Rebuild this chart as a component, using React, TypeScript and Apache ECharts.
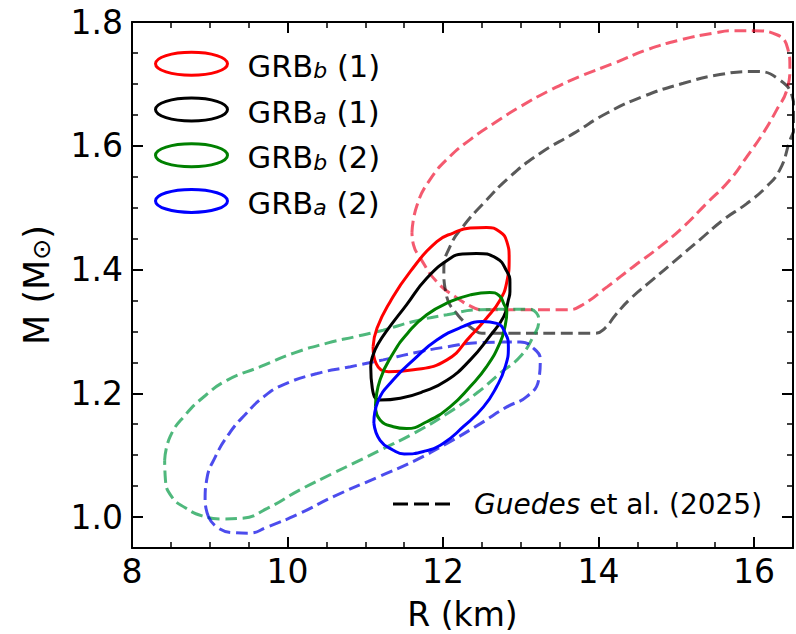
import React, { useEffect, useRef } from 'react';
import * as echarts from 'echarts';

const FONT = "'DejaVu Sans', sans-serif";

// Axis ranges and tick steps
const X_MIN = 8;
const X_MAX = 16.5;
const X_MAJOR = 2;
const X_MINOR = 0.5;
const Y_MIN = 0.95;
const Y_MAX = 1.8;
const Y_MAJOR = 0.2;
const Y_MINOR = 0.05;

// Solid credible contours (R [km], M [Msun])
const GRB_B1: number[][] = [
  [11.10, 1.275], [11.15, 1.305], [11.32, 1.348], [11.58, 1.397], [11.92, 1.445], [12.13, 1.459],
  [12.35, 1.467], [12.56, 1.468], [12.73, 1.461], [12.82, 1.445], [12.85, 1.418], [12.82, 1.38],
  [12.73, 1.35], [12.55, 1.32], [12.35, 1.292], [12.05, 1.254], [11.62, 1.238], [11.30, 1.235],
  [11.14, 1.248], [11.10, 1.275],
];
const GRB_A1: number[][] = [
  [11.16, 1.279], [11.27, 1.30], [11.53, 1.343], [11.79, 1.386], [12.09, 1.418], [12.25, 1.425],
  [12.43, 1.426], [12.69, 1.418], [12.82, 1.397], [12.86, 1.38], [12.86, 1.364], [12.84, 1.351],
  [12.78, 1.324], [12.60, 1.292], [12.35, 1.254], [12.05, 1.221], [11.75, 1.203], [11.45, 1.192],
  [11.19, 1.189], [11.09, 1.208], [11.07, 1.243], [11.10, 1.262], [11.16, 1.279],
];
const GRB_B2: number[][] = [
  [11.13, 1.178], [11.19, 1.222], [11.36, 1.265], [11.55, 1.298], [11.79, 1.327], [12.09, 1.348],
  [12.35, 1.359], [12.60, 1.363], [12.72, 1.358], [12.78, 1.345], [12.82, 1.332], [12.80, 1.31],
  [12.73, 1.281], [12.56, 1.243], [12.35, 1.211], [12.09, 1.178], [11.79, 1.154], [11.53, 1.143],
  [11.36, 1.146], [11.19, 1.157], [11.13, 1.178],
];
const GRB_A2: number[][] = [
  [11.11, 1.152], [11.16, 1.186], [11.36, 1.222], [11.62, 1.254], [11.92, 1.286], [12.26, 1.308],
  [12.50, 1.316], [12.69, 1.313], [12.80, 1.297], [12.84, 1.275], [12.80, 1.243], [12.69, 1.211],
  [12.52, 1.178], [12.26, 1.146], [12.00, 1.119], [11.75, 1.106], [11.50, 1.102], [11.36, 1.108],
  [11.19, 1.124], [11.11, 1.152],
];

// Dashed contours from Guedes et al. (2025)
const GUEDES_B1: number[][] = [
  [11.60, 1.46], [11.66, 1.502], [11.83, 1.545], [12.09, 1.583], [12.35, 1.61], [12.65, 1.636],
  [12.99, 1.663], [13.38, 1.69], [13.76, 1.712], [14.19, 1.733], [14.62, 1.755], [15.05, 1.771],
  [15.48, 1.782], [15.73, 1.786], [15.99, 1.786], [16.30, 1.779], [16.43, 1.758], [16.46, 1.728],
  [16.42, 1.69], [16.29, 1.658], [16.12, 1.621], [15.91, 1.583], [15.69, 1.545], [15.39, 1.507],
  [15.09, 1.469], [14.79, 1.437], [14.45, 1.405], [14.11, 1.372], [13.78, 1.342], [13.60, 1.335],
  [12.50, 1.335], [12.40, 1.338], [12.18, 1.354], [11.92, 1.38], [11.71, 1.418], [11.62, 1.44],
  [11.60, 1.46],
];
const GUEDES_A1: number[][] = [
  [12.43, 1.30], [12.20, 1.325], [12.04, 1.36], [12.01, 1.40], [12.10, 1.44], [12.26, 1.47],
  [12.52, 1.507], [12.86, 1.55], [13.25, 1.588], [13.68, 1.62], [14.11, 1.653], [14.58, 1.68],
  [15.09, 1.701], [15.56, 1.715], [15.99, 1.72], [16.30, 1.709], [16.50, 1.675], [16.53, 1.64],
  [16.45, 1.605], [16.33, 1.561], [16.16, 1.534], [15.91, 1.507], [15.60, 1.48], [15.30, 1.448],
  [15.00, 1.416], [14.70, 1.384], [14.42, 1.354], [14.22, 1.327], [14.08, 1.305], [13.95, 1.297],
  [12.50, 1.297], [12.43, 1.30],
];
const GUEDES_B2: number[][] = [
  [8.42, 1.092], [8.49, 1.13], [8.685, 1.165], [8.94, 1.196], [9.22, 1.221],
  [9.65, 1.243], [10.08, 1.265], [10.51, 1.281], [10.89, 1.292], [11.23, 1.302], [11.62, 1.316],
  [12.05, 1.327], [12.48, 1.335], [13.10, 1.336], [13.20, 1.33], [13.23, 1.317], [13.16, 1.292],
  [12.99, 1.259], [12.73, 1.232], [12.43, 1.20], [12.05, 1.167], [11.62, 1.135], [11.19, 1.108],
  [10.90, 1.09], [10.59, 1.071], [10.16, 1.044], [9.74, 1.014], [9.414, 0.998], [9.157, 0.997],
  [8.90, 1.002], [8.685, 1.015], [8.51, 1.033], [8.43, 1.06], [8.42, 1.092],
];
const GUEDES_A2: number[][] = [
  [8.985, 1.0], [8.94, 1.027], [8.96, 1.06], [9.07, 1.097], [9.25, 1.135], [9.45, 1.165],
  [9.70, 1.195], [9.95, 1.214], [10.38, 1.232], [10.81, 1.243], [11.23, 1.254], [11.62, 1.265],
  [12.05, 1.275], [12.48, 1.282], [12.99, 1.283], [13.16, 1.273], [13.25, 1.254], [13.23, 1.222],
  [13.08, 1.195], [12.82, 1.178], [12.48, 1.151], [12.05, 1.119], [11.62, 1.09], [11.19, 1.066],
  [10.59, 1.033], [10.16, 1.006], [9.74, 0.984], [9.50, 0.974], [9.285, 0.975], [9.09, 0.984],
  [8.985, 1.0],
];

const GUEDES_NAME = 'Guedes et al. (2025)';

const SOLID = [
  { name: 'GRB_b (1)', color: '#ff0000', data: GRB_B1, label: '{p|GRB}{s|b}{n| (1)}' },
  { name: 'GRB_a (1)', color: '#000000', data: GRB_A1, label: '{p|GRB}{s|a}{n| (1)}' },
  { name: 'GRB_b (2)', color: '#008000', data: GRB_B2, label: '{p|GRB}{s|b}{n| (2)}' },
  { name: 'GRB_a (2)', color: '#0000ff', data: GRB_A2, label: '{p|GRB}{s|a}{n| (2)}' },
];
const DASHED = [
  { color: 'rgba(240,20,50,0.7)', data: GUEDES_B1 },
  { color: 'rgba(0,0,0,0.65)', data: GUEDES_A1 },
  { color: 'rgba(20,160,80,0.75)', data: GUEDES_B2 },
  { color: 'rgba(0,0,230,0.7)', data: GUEDES_A2 },
];

const ELLIPSE_ICON = 'path://M0,11.5A36,11.5,0,1,1,72,11.5A36,11.5,0,1,1,0,11.5Z';
const DASH_ICON = 'path://M0,0h15v3h-15zM21,0h15v3h-15zM42,0h15v3h-15z';

function makeX(position: string, major: boolean, labels: boolean): any {
  return {
    type: 'value',
    position,
    min: X_MIN,
    max: X_MAX,
    ...(major ? { minInterval: X_MAJOR, maxInterval: X_MAJOR } : { interval: X_MINOR }),
    splitLine: { show: false },
    axisLine: major
      ? { show: true, onZero: false, lineStyle: { color: '#000', width: 2 } }
      : { show: false, onZero: false },
    axisTick: {
      show: true,
      inside: true,
      length: major ? 11 : 6,
      lineStyle: { color: '#000', width: major ? 2 : 1.5 },
    },
    axisLabel: labels
      ? {
          show: true,
          margin: 7,
          fontSize: 33,
          fontFamily: FONT,
          color: '#000',
          showMaxLabel: false,
          formatter: (v: number) => String(Math.round(v)),
        }
      : { show: false },
    ...(labels
      ? {
          name: 'R (km)',
          nameLocation: 'middle',
          nameGap: 50,
          nameTextStyle: { fontSize: 33, fontFamily: FONT, color: '#000' },
        }
      : {}),
  };
}

function makeY(position: string, major: boolean, labels: boolean): any {
  return {
    type: 'value',
    position,
    min: Y_MIN,
    max: Y_MAX,
    ...(major ? { minInterval: Y_MAJOR, maxInterval: Y_MAJOR } : { interval: Y_MINOR }),
    splitLine: { show: false },
    axisLine: major
      ? { show: true, onZero: false, lineStyle: { color: '#000', width: 2 } }
      : { show: false, onZero: false },
    axisTick: {
      show: true,
      inside: true,
      length: major ? 11 : 6,
      lineStyle: { color: '#000', width: major ? 2 : 1.5 },
    },
    axisLabel: labels
      ? {
          show: true,
          margin: 9,
          fontSize: 33,
          fontFamily: FONT,
          color: '#000',
          showMinLabel: false,
          formatter: (v: number) => v.toFixed(1),
        }
      : { show: false },
    ...(labels
      ? {
          name: '{n|M (M}{s|\u2299}{n|)}',
          nameLocation: 'middle',
          nameGap: 78,
          nameTextStyle: {
            fontSize: 35,
            fontFamily: FONT,
            color: '#000',
            rich: {
              n: { fontSize: 35, fontFamily: FONT, color: '#000', lineHeight: 40, verticalAlign: 'bottom' },
              s: { fontSize: 25, fontFamily: FONT, color: '#000', lineHeight: 23, verticalAlign: 'bottom' },
            },
          },
        }
      : {}),
  };
}

export default function App() {
  const ref = useRef<HTMLDivElement>(null);

  useEffect(() => {
    document.body.style.margin = '0';
    if (!ref.current) return;
    const chart = echarts.init(ref.current, null, { renderer: 'svg' });

    const legendRich = {
      p: { fontSize: 30.5, fontFamily: FONT, color: '#000', lineHeight: 36, verticalAlign: 'bottom', padding: [0, 0, 0, 15] },
      n: { fontSize: 30.5, fontFamily: FONT, color: '#000', lineHeight: 36, verticalAlign: 'bottom' },
      s: { fontSize: 22, fontFamily: FONT, fontStyle: 'italic', color: '#000', lineHeight: 20, verticalAlign: 'bottom' },
    };
    const guedesRich = {
      i: { fontSize: 28, fontFamily: FONT, fontStyle: 'italic', color: '#000', lineHeight: 34, padding: [0, 0, 0, 19] },
      n: { fontSize: 28, fontFamily: FONT, color: '#000', lineHeight: 34 },
    };

    const labelMap: Record<string, string> = {};
    SOLID.forEach((s) => (labelMap[s.name] = s.label));
    labelMap[GUEDES_NAME] = '{i|Guedes}{n| et al. (2025)}';

    const series: any[] = [];
    DASHED.forEach((d) => {
      series.push({
        type: 'line',
        name: GUEDES_NAME,
        data: d.data,
        xAxisIndex: 0,
        yAxisIndex: 0,
        symbol: 'none',
        showSymbol: false,
        smooth: 0.5,
        silent: true,
        z: 2,
        lineStyle: { color: d.color, width: 3, type: [12, 5.5] },
        itemStyle: { color: d.color },
      });
    });
    SOLID.forEach((s, i) => {
      series.push({
        type: 'line',
        name: s.name,
        data: s.data,
        xAxisIndex: 0,
        yAxisIndex: 0,
        symbol: 'none',
        showSymbol: false,
        smooth: 0.5,
        silent: true,
        z: 3 + i,
        lineStyle: { color: s.color, width: 3 },
        itemStyle: { color: s.color },
      });
    });

    const option: any = {
      animation: false,
      backgroundColor: '#ffffff',
      grid: { left: 132, top: 22, right: 3, bottom: 86, containLabel: false, outerBoundsMode: 'none' },
      xAxis: [makeX('bottom', true, true), makeX('bottom', false, false), makeX('top', true, false), makeX('top', false, false)],
      yAxis: [makeY('left', true, true), makeY('left', false, false), makeY('right', true, false), makeY('right', false, false)],
      legend: [
        {
          orient: 'vertical',
          left: 154,
          top: 50.8,
          padding: 0,
          itemWidth: 72,
          itemHeight: 23,
          itemGap: 14.7,
          selectedMode: false,
          data: SOLID.map((s) => ({
            name: s.name,
            icon: ELLIPSE_ICON,
            itemStyle: { color: 'rgba(0,0,0,0)', borderColor: s.color, borderWidth: 3 },
          })),
          formatter: (name: string) => labelMap[name] || name,
          textStyle: { fontFamily: FONT, fontSize: 30.5, color: '#000', rich: legendRich },
        },
        {
          orient: 'vertical',
          left: 393,
          top: 490,
          padding: 0,
          itemWidth: 57,
          itemHeight: 3,
          selectedMode: false,
          data: [
            {
              name: GUEDES_NAME,
              icon: DASH_ICON,
              itemStyle: { color: '#000', borderWidth: 0, opacity: 1 },
            },
          ],
          formatter: (name: string) => labelMap[name] || name,
          textStyle: { fontFamily: FONT, fontSize: 28, color: '#000', rich: guedesRich },
        },
      ],
      series,
    };

    chart.setOption(option);
    return () => chart.dispose();
  }, []);

  return (
    <div
      ref={ref}
      style={{ position: 'absolute', left: 0, top: 0, width: 796, height: 634, background: '#fff' }}
    />
  );
}
